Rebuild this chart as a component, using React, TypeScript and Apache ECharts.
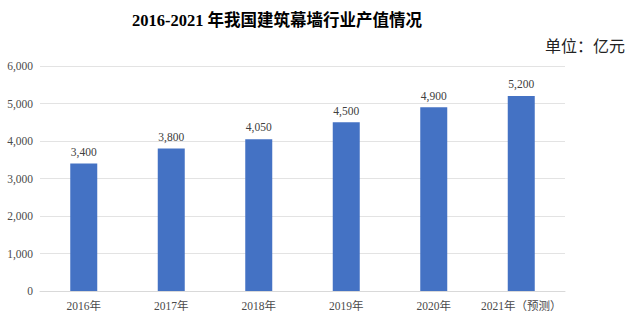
import React, { useEffect, useRef } from "react";
import * as echarts from "echarts";

const categories = ["2016年", "2017年", "2018年", "2019年", "2020年", "2021年（预测）"];
const values = [3400, 3800, 4050, 4500, 4900, 5200];
const titleText = "2016-2021 年我国建筑幕墙行业产值情况";
const unitText = "单位：亿元";

const serif = "Liberation Serif, Times New Roman, Noto Sans CJK SC, serif";

export default function App() {
  const ref = useRef<HTMLDivElement>(null);
  useEffect(() => {
    const chart = echarts.init(ref.current!, undefined, { renderer: "svg" });
    chart.setOption({
      animation: false,
      backgroundColor: "#ffffff",
      textStyle: { fontFamily: serif },
      title: {
        text: titleText,
        left: 272,
        textAlign: "center",
        top: 7,
        textStyle: { fontFamily: serif, fontSize: 16.5, fontWeight: "bold", color: "#000" },
      },
      graphic: [
        {
          type: "text",
          right: 10,
          top: 38,
          style: { text: unitText, font: `16px ${serif}`, fill: "#222" },
        },
      ],
      grid: { left: 40, right: 70, top: 66, bottom: 30, containLabel: false },
      xAxis: {
        type: "category",
        data: categories,
        axisLine: { show: true, lineStyle: { color: "#d9d9d9" } },
        axisTick: { show: false },
        axisLabel: { interval: 0, color: "#4a4a4a", fontFamily: serif, fontSize: 11.5, margin: 9 },
      },
      yAxis: {
        type: "value",
        min: 0,
        max: 6000,
        interval: 1000,
        axisLine: { show: false },
        axisTick: { show: false },
        splitLine: { lineStyle: { color: "#e3e3e3" } },
        axisLabel: {
          color: "#4a4a4a",
          fontFamily: serif,
          fontSize: 11.5,
          margin: 7,
          formatter: (v: number) => v.toLocaleString("en-US"),
        },
      },
      series: [
        {
          type: "bar",
          data: values,
          barWidth: 27,
          itemStyle: { color: "#4472C4" },
          label: {
            show: true,
            position: "top",
            distance: 6,
            color: "#404040",
            fontFamily: serif,
            fontSize: 11.5,
            formatter: (p: any) => Number(p.value).toLocaleString("en-US"),
          },
        },
      ],
    });
    return () => chart.dispose();
  }, []);
  return (
    <div
      ref={ref}
      style={{ position: "fixed", left: 0, top: 0, width: 635, height: 321 }}
    />
  );
}
